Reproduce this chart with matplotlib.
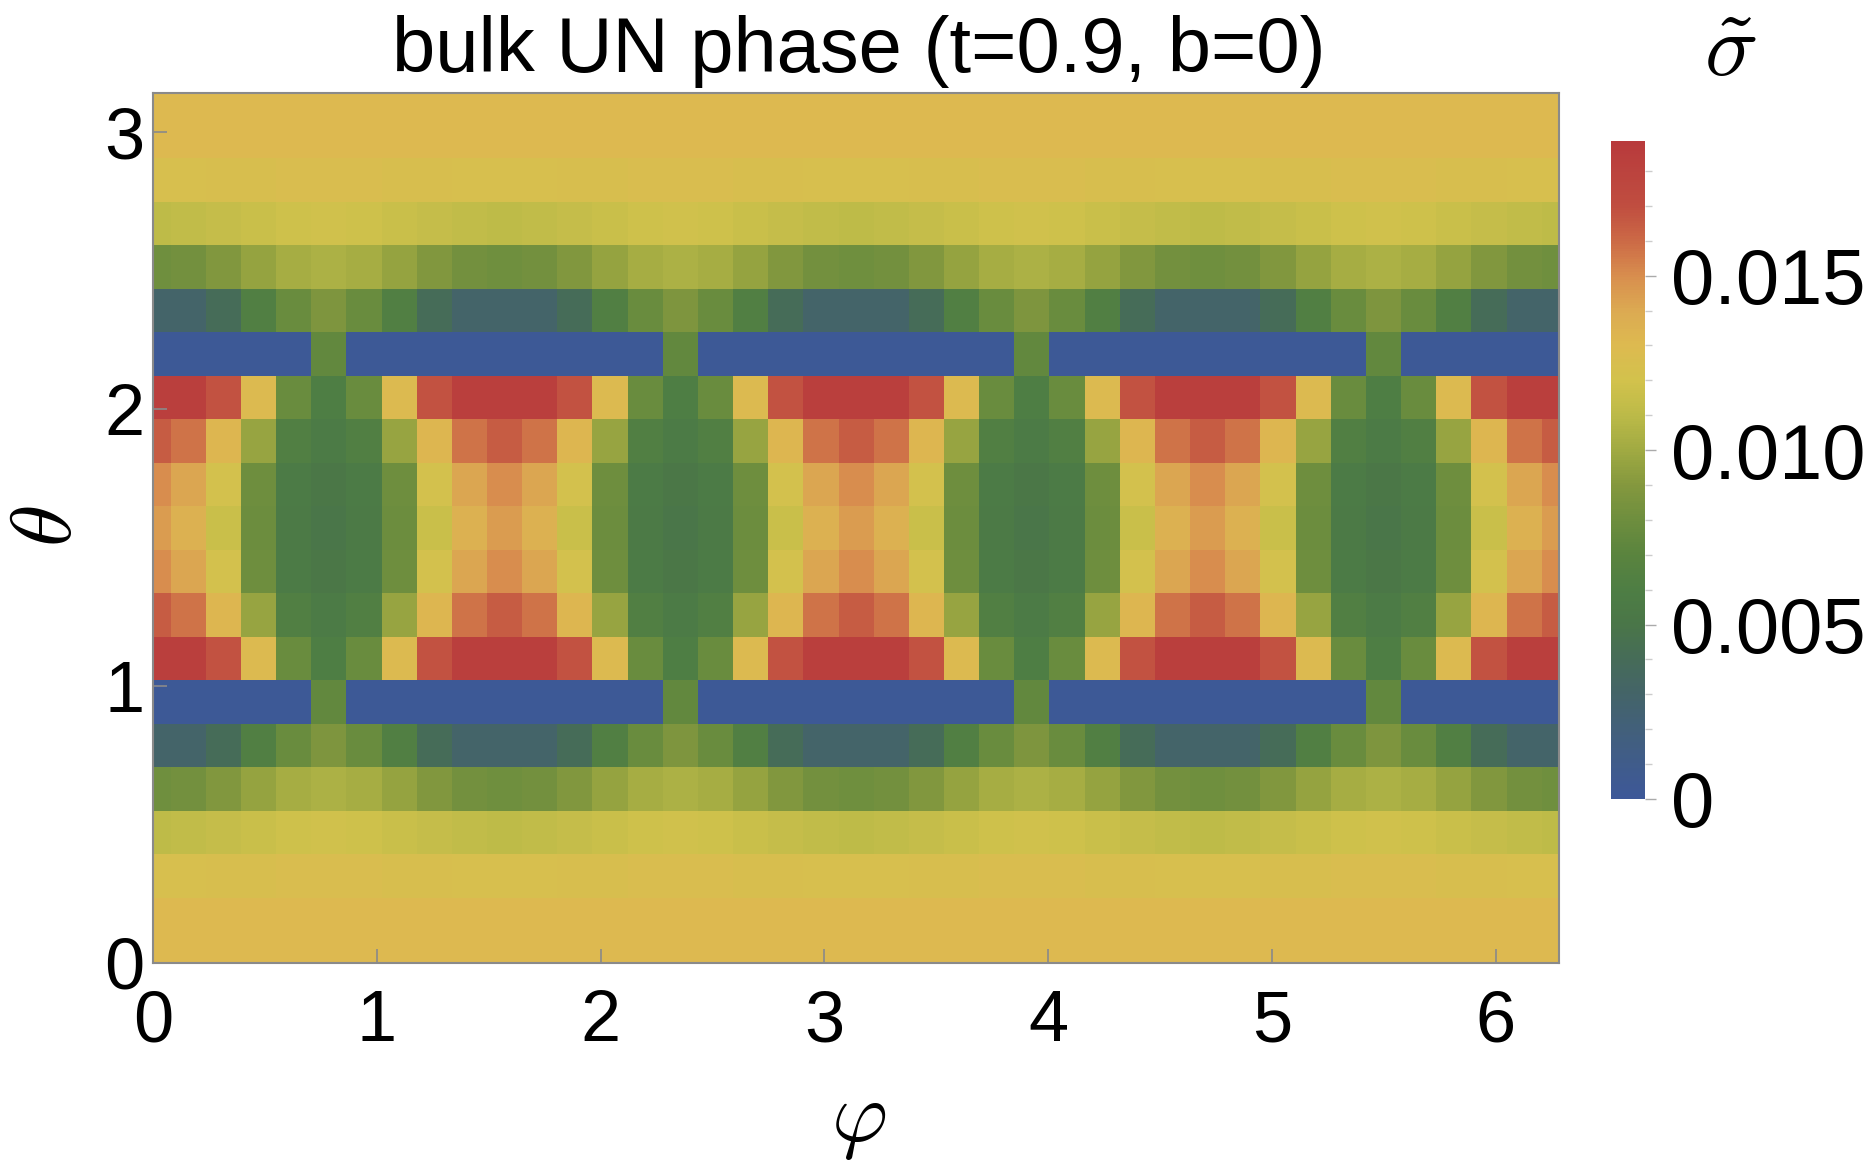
import numpy as np
import matplotlib
matplotlib.use('Agg')
from matplotlib import pyplot as plt
from matplotlib.colors import LinearSegmentedColormap, Normalize

plt.rcParams['font.family'] = ['Liberation Sans', 'DejaVu Sans']
plt.rcParams['mathtext.fontset'] = 'cm'

# grid: phi = 0 .. 2pi, theta = 0 .. pi, step pi/20
phi = np.linspace(0, 2 * np.pi, 41)
theta = np.linspace(0, np.pi, 21)

# sigma values, in units of 1e-4, one row per theta (bottom to top)
rows = [
    [131,131,131,131,131,131,131,131,131,131,131, 131,131,131,131,131,131,131,131,131,131, 131,131,131,131,131,131,131,131,131,131, 131,131,131,131,131,131,131,131,131,131],
    [131,131,131,131,131,131,131,131,131,131,131, 131,131,131,131,131,131,131,131,131,131, 131,131,131,131,131,131,131,131,131,131, 131,131,131,131,131,131,131,131,131,131],
    [124,124,125,125,126,126,126,125,125,124,124, 124,125,125,126,126,126,125,125,124,124, 124,125,125,126,126,126,125,125,124,124, 124,125,125,126,126,126,125,125,124,124],
    [111,112,114,116,118,119,118,116,114,112,111, 112,114,116,118,119,118,116,114,112,111, 112,114,116,118,119,118,116,114,112,111, 112,114,116,118,119,118,116,114,112,111],
    [81,82,89,96,102,104,102,96,89,82,81, 82,89,96,102,104,102,96,89,82,81, 82,89,96,102,104,102,96,89,82,81, 82,89,96,102,104,102,96,89,82,81],
    [30,30,40,62,78,87,78,62,40,30,30, 30,40,62,78,87,78,62,40,30,30, 30,40,62,78,87,78,62,40,30,30, 30,40,62,78,87,78,62,40,30,30],
    [2,2,2,2,2,74,2,2,2,2,2, 2,2,2,2,74,2,2,2,2,2, 2,2,2,2,74,2,2,2,2,2, 2,2,2,2,74,2,2,2,2,2],
    [184,184,168,129,78,60,78,129,168,184,184, 184,168,129,78,60,78,129,168,184,184, 184,168,129,78,60,78,129,168,184,184, 184,168,129,78,60,78,129,168,184,184],
    [165,157,132,97,62,56,62,97,132,157,165, 157,132,97,62,56,62,97,132,157,165, 157,132,97,62,56,62,97,132,157,165, 157,132,97,62,56,62,97,132,157,165],
    [150,141,121,80,56,52,56,80,121,141,150, 141,121,80,56,52,56,80,121,141,150, 141,121,80,56,52,56,80,121,141,150, 141,121,80,56,52,56,80,121,141,150],
    [145,135,116,79,55,50,55,79,116,135,145, 135,116,79,55,50,55,79,116,135,145, 135,116,79,55,50,55,79,116,135,145, 135,116,79,55,50,55,79,116,135,145],
    [150,141,121,80,56,52,56,80,121,141,150, 141,121,80,56,52,56,80,121,141,150, 141,121,80,56,52,56,80,121,141,150, 141,121,80,56,52,56,80,121,141,150],
    [165,157,132,97,62,56,62,97,132,157,165, 157,132,97,62,56,62,97,132,157,165, 157,132,97,62,56,62,97,132,157,165, 157,132,97,62,56,62,97,132,157,165],
    [184,184,168,129,78,60,78,129,168,184,184, 184,168,129,78,60,78,129,168,184,184, 184,168,129,78,60,78,129,168,184,184, 184,168,129,78,60,78,129,168,184,184],
    [2,2,2,2,2,74,2,2,2,2,2, 2,2,2,2,74,2,2,2,2,2, 2,2,2,2,74,2,2,2,2,2, 2,2,2,2,74,2,2,2,2,2],
    [30,30,40,62,78,87,78,62,40,30,30, 30,40,62,78,87,78,62,40,30,30, 30,40,62,78,87,78,62,40,30,30, 30,40,62,78,87,78,62,40,30,30],
    [81,82,89,96,102,104,102,96,89,82,81, 82,89,96,102,104,102,96,89,82,81, 82,89,96,102,104,102,96,89,82,81, 82,89,96,102,104,102,96,89,82,81],
    [111,112,114,116,118,119,118,116,114,112,111, 112,114,116,118,119,118,116,114,112,111, 112,114,116,118,119,118,116,114,112,111, 112,114,116,118,119,118,116,114,112,111],
    [124,124,125,125,126,126,126,125,125,124,124, 124,125,125,126,126,126,125,125,124,124, 124,125,125,126,126,126,125,125,124,124, 124,125,125,126,126,126,125,125,124,124],
    [131,131,131,131,131,131,131,131,131,131,131, 131,131,131,131,131,131,131,131,131,131, 131,131,131,131,131,131,131,131,131,131, 131,131,131,131,131,131,131,131,131,131],
    [131,131,131,131,131,131,131,131,131,131,131, 131,131,131,131,131,131,131,131,131,131, 131,131,131,131,131,131,131,131,131,131, 131,131,131,131,131,131,131,131,131,131],
]
sigma = np.array(rows) * 1e-4

vmax = 0.01886
cb_ticks = [0, 0.005, 0.010, 0.015]
cb_labels = ['0', '0.005', '0.010', '0.015']

# colour scale sampled from the colour bar (DarkRainbow-like)
cm_vals = [0, 0.001, 0.002, 0.003, 0.004, 0.005, 0.006, 0.007, 0.008, 0.009, 0.010,
           0.011, 0.012, 0.013, 0.014, 0.015, 0.016, 0.017, vmax]
cm_cols = ['#3D5898', '#405C8A', '#42607A', '#446468', '#466C58', '#4A7648', '#4E7E44',
           '#5A843E', '#6E8E3E', '#84983E', '#A0AA42', '#BCBA48', '#D2C24C', '#DDBA50',
           '#DCAA52', '#D88E4E', '#CC6A46', '#C04E40', '#B83A3C']
cmap = LinearSegmentedColormap.from_list('darkrainbow', [(v / vmax, c) for v, c in zip(cm_vals, cm_cols)])

fig = plt.figure(figsize=(18.75, 11.65), dpi=100)
ax = fig.add_axes([0.0816, 0.1734, 0.750, 0.7466])
mesh = ax.pcolormesh(phi, theta, sigma, cmap=cmap, norm=Normalize(0, vmax), shading='nearest')
ax.set_xlim(0, 2 * np.pi)
ax.set_ylim(0, np.pi)

for s in ax.spines.values():
    s.set_color('#8A8A8A')
    s.set_linewidth(1.5)
ax.set_xticks([0, 1, 2, 3, 4, 5, 6])
ax.set_yticks([0, 1, 2, 3])
ax.tick_params(axis='x', direction='in', length=10, width=1.2, color='#8A8A8A', labelsize=52, pad=19)
ax.tick_params(axis='y', direction='in', length=10, width=1.2, color='#8A8A8A', labelsize=52, pad=6)

fig.text(0.458, 0.938, 'bulk UN phase (t=0.9, b=0)', ha='center', va='baseline', fontsize=56)
fig.text(0.458, 0.037, r'$\varphi$', ha='center', va='center', fontsize=62)
fig.text(0.026, 0.548, r'$\theta$', ha='center', va='center', fontsize=62, rotation=90)
fig.text(0.923, 0.935, r'$\tilde{\sigma}$', ha='center', va='baseline', fontsize=64)

cax = fig.add_axes([0.8592, 0.3142, 0.0181, 0.5648])
cb = fig.colorbar(mesh, cax=cax)
cb.outline.set_visible(False)
cb.set_ticks(cb_ticks)
cb.set_ticklabels(cb_labels)
cb.ax.set_yticks(np.arange(0.001, 0.0185, 0.001), minor=True)
cb.ax.tick_params(which='major', length=8, width=1, color='#AAAAAA', labelsize=56, pad=11)
cb.ax.tick_params(which='minor', length=5, width=1, color='#CCCCCC')

fig.savefig('out.png', dpi=100)
